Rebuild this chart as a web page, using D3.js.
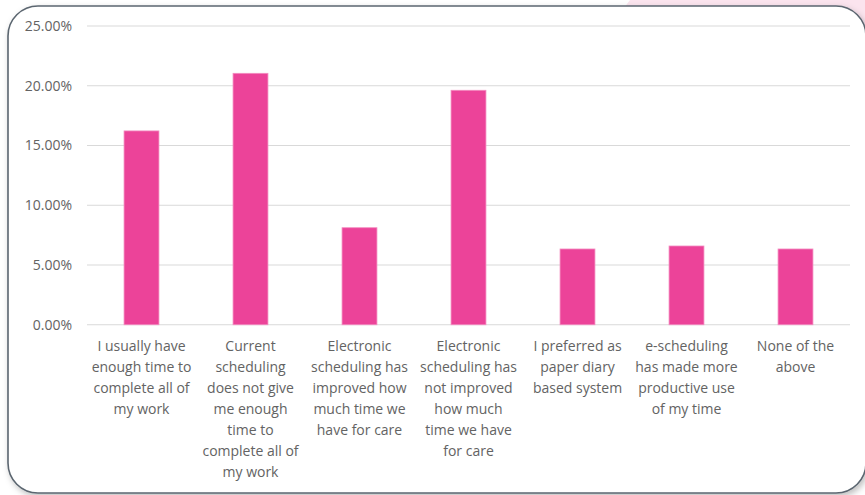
<!DOCTYPE html>
<html>
<head>
<meta charset="utf-8">
<script src="https://cdn.jsdelivr.net/npm/d3@7"></script>
<style>
  body { margin: 0; background: #ffffff; }
  svg { display: block; }
</style>
</head>
<body>
<div id="chart"></div>
<script>
// categories, line breaks as in the original axis labels
let categories = [
    "I usually have|enough time to|complete all of|my work",
    "Current|scheduling|does not give|me enough|time to|complete all of|my work",
    "Electronic|scheduling has|improved how|much time we|have for care",
    "Electronic|scheduling has|not improved|how much|time we have|for care",
    "I preferred as|paper diary|based system",
    "e-scheduling|has made more|productive use|of my time",
    "None of the|above"
]
let values = [0.1622, 0.2104, 0.0812, 0.1962, 0.0634, 0.0659, 0.0634]
let y_ticks = [0, 0.05, 0.10, 0.15, 0.20, 0.25]

let width = 865, height = 495
let margin = {top: 26, right: 15, bottom: 170, left: 87}

let svg = d3.select("#chart")
    .append("svg")
    .attr("width", width)
    .attr("height", height)

let defs = svg.append("defs")
let shadow = defs.append("filter").attr("id", "shadow")
    .attr("x", "-5%").attr("y", "-5%").attr("width", "110%").attr("height", "110%")
shadow.append("feDropShadow")
    .attr("dx", 2).attr("dy", 3).attr("stdDeviation", 3)
    .attr("flood-color", "#000").attr("flood-opacity", 0.25)

// faint pink slide background behind top right corner
svg.append("path")
    .attr("d", "M630,0 L865,0 L865,40 L600,40 Z")
    .attr("fill", "#fbe4ee")

// rounded frame
svg.append("rect")
    .attr("x", 8).attr("y", 6)
    .attr("width", 858).attr("height", 487)
    .attr("rx", 30).attr("ry", 30)
    .attr("fill", "#ffffff")
    .attr("stroke", "#5b6670")
    .attr("stroke-width", 1.6)
    .attr("filter", "url(#shadow)")

let x = d3.scaleBand()
    .domain(categories)
    .range([margin.left, 850])
    .paddingInner(0.68)
    .paddingOuter(0.34)

let y = d3.scaleLinear()
    .domain([0, 0.25])
    .range([324.75, margin.top])

// gridlines
svg.append("g")
    .selectAll("line")
    .data(y_ticks)
    .enter()
    .append("line")
    .attr("x1", margin.left)
    .attr("x2", 850)
    .attr("y1", d => y(d))
    .attr("y2", d => y(d))
    .attr("stroke", "#d9d9d9")
    .attr("stroke-width", 1)

// y axis labels
let yAxis = d3.axisLeft(y)
    .tickValues(y_ticks)
    .tickFormat(d => (d * 100).toFixed(2) + "%")
    .tickSize(0)
    .tickPadding(15)

let gy = svg.append("g")
    .attr("transform", `translate(${margin.left}, 0)`)
    .call(yAxis)
gy.select(".domain").remove()
gy.selectAll("text")
    .style("font-family", "'Open Sans', sans-serif")
    .style("font-size", "14px")
    .attr("fill", "#636363")

// bars
svg.append("g")
    .selectAll("rect")
    .data(values)
    .enter()
    .append("rect")
    .attr("x", (d, i) => x(categories[i]))
    .attr("y", d => y(d))
    .attr("width", x.bandwidth())
    .attr("height", d => y(0) - y(d))
    .attr("fill", "#ec4399")
    .attr("stroke", "#f38cc0")
    .attr("stroke-width", 0.8)

// category labels
let labels = svg.append("g")
    .selectAll("text")
    .data(categories)
    .enter()
    .append("text")
    .attr("x", d => x(d) + x.bandwidth() / 2)
    .attr("y", 351)
    .attr("text-anchor", "middle")
    .style("font-family", "'Open Sans', sans-serif")
    .style("font-size", "14px")
    .attr("fill", "#636363")

labels.selectAll("tspan")
    .data(d => d.split("|"))
    .enter()
    .append("tspan")
    .attr("x", function() { return d3.select(this.parentNode).attr("x") })
    .attr("dy", (d, i) => i === 0 ? 0 : 21)
    .text(d => d)
</script>
</body>
</html>
